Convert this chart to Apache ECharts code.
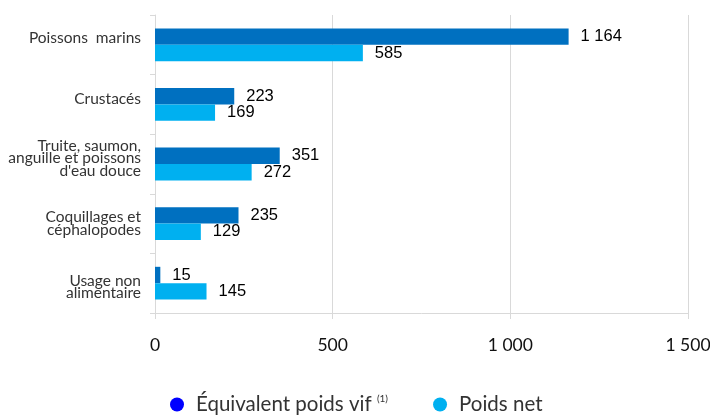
<!DOCTYPE html>
<html>
<head>
<meta charset="utf-8">
<script src="https://cdn.jsdelivr.net/npm/echarts@6/dist/echarts.min.js"></script>
<style>
  html, body { margin: 0; padding: 0; background: #fff; }
  #chart { width: 710px; height: 417px; }
</style>
</head>
<body>
<div id="chart"></div>
<script>
// Product categories (top to bottom)
const categories = [
  'Poissons  marins',
  'Crustacés',
  'Truite, saumon,\nanguille et poissons\nd\'eau douce',
  'Coquillages et\ncéphalopodes',
  'Usage non\nalimentaire'
];
// Live-weight equivalent
const poidsVif = [1164, 223, 351, 235, 15];
// Net weight
const poidsNet = [585, 169, 272, 129, 145];
// Value axis ticks
const xTicks = [0, 500, 1000, 1500];

// French thousands separator
const fmt = v => String(v).replace(/\B(?=(\d{3})+(?!\d))/g, ' ');

// Small vertical nudges of the category labels (px, negative = up)
const catNudge = [-7, -5, -6, 0, 4];

const catFont = {
  color: '#333',
  fontFamily: 'Lato, Noto Sans, sans-serif',
  fontSize: 15.5,
  lineHeight: 12.5,
  align: 'right'
};

// Text lines use style "l"; an invisible spacer line ("s0".."s4") added
// below or above the text shifts the centred label block up or down
const catRich = { l: Object.assign({}, catFont) };
catNudge.forEach((n, i) => {
  catRich['s' + i] = { fontSize: 1, lineHeight: Math.max(1, 2 * Math.abs(n)), align: 'right' };
});

const catFormatter = (val, idx) => {
  const body = val.split('\n').map(l => `{l|${l}}`);
  const n = catNudge[idx] || 0;
  if (n < 0) body.push(`{s${idx}|\u200b}`);
  if (n > 0) body.unshift(`{s${idx}|\u200b}`);
  return body.join('\n');
};

const chart = echarts.init(document.getElementById('chart'), null, { renderer: 'canvas' });

const labelStyle = {
  show: true,
  position: 'right',
  distance: 12,
  color: '#000',
  fontFamily: 'Liberation Sans, Arial, sans-serif',
  fontSize: 16.5,
  formatter: p => fmt(p.value)
};

chart.setOption({
  animation: false,
  grid: { left: 155, right: 22, top: 15, bottom: 104, containLabel: false, outerBoundsMode: 'none' },
  legend: {
    top: 389,
    left: 165,
    itemGap: 45,
    itemWidth: 14,
    itemHeight: 14,
    icon: 'circle',
    textStyle: {
      fontFamily: 'Lato, Noto Sans, sans-serif',
      fontSize: 20.5,
      color: '#333',
      padding: [0, 0, 0, 7],
      rich: {
        sup: { fontSize: 10, verticalAlign: 'top', padding: [0, 0, 11, 0], color: '#333', fontFamily: 'Lato, sans-serif' }
      }
    },
    formatter: name => name === 'Équivalent poids vif' ? name + ' {sup|(1)}' : name,
    data: [
      { name: 'Équivalent poids vif', itemStyle: { color: '#0000FF' } },
      { name: 'Poids net', itemStyle: { color: '#00B0F0' } }
    ]
  },
  xAxis: {
    type: 'value',
    min: xTicks[0],
    max: xTicks[xTicks.length - 1],
    interval: 500,
    axisLine: { show: true, lineStyle: { color: '#d9d9d9' } },
    axisTick: { show: true, length: 6, lineStyle: { color: '#d9d9d9' } },
    splitLine: { show: true, lineStyle: { color: '#d9d9d9' } },
    axisLabel: {
      margin: 23,
      color: '#111',
      fontFamily: 'Lato, Noto Sans, sans-serif',
      fontSize: 17.5,
      formatter: v => fmt(v)
    }
  },
  yAxis: {
    type: 'category',
    inverse: true,
    data: categories,
    axisLine: { show: true, lineStyle: { color: '#d9d9d9' } },
    axisTick: { show: true, length: 5, lineStyle: { color: '#d9d9d9' } },
    axisLabel: Object.assign({ margin: 14, formatter: catFormatter, rich: catRich }, catFont)
  },
  series: [
    {
      name: 'Équivalent poids vif',
      type: 'bar',
      data: poidsVif,
      barGap: '0%',
      barCategoryGap: '45%',
      itemStyle: { color: '#0070C0' },
      label: labelStyle
    },
    {
      name: 'Poids net',
      type: 'bar',
      data: poidsNet,
      barGap: '0%',
      barCategoryGap: '45%',
      itemStyle: { color: '#00B0F0' },
      label: labelStyle
    }
  ]
});
</script>
</body>
</html>
